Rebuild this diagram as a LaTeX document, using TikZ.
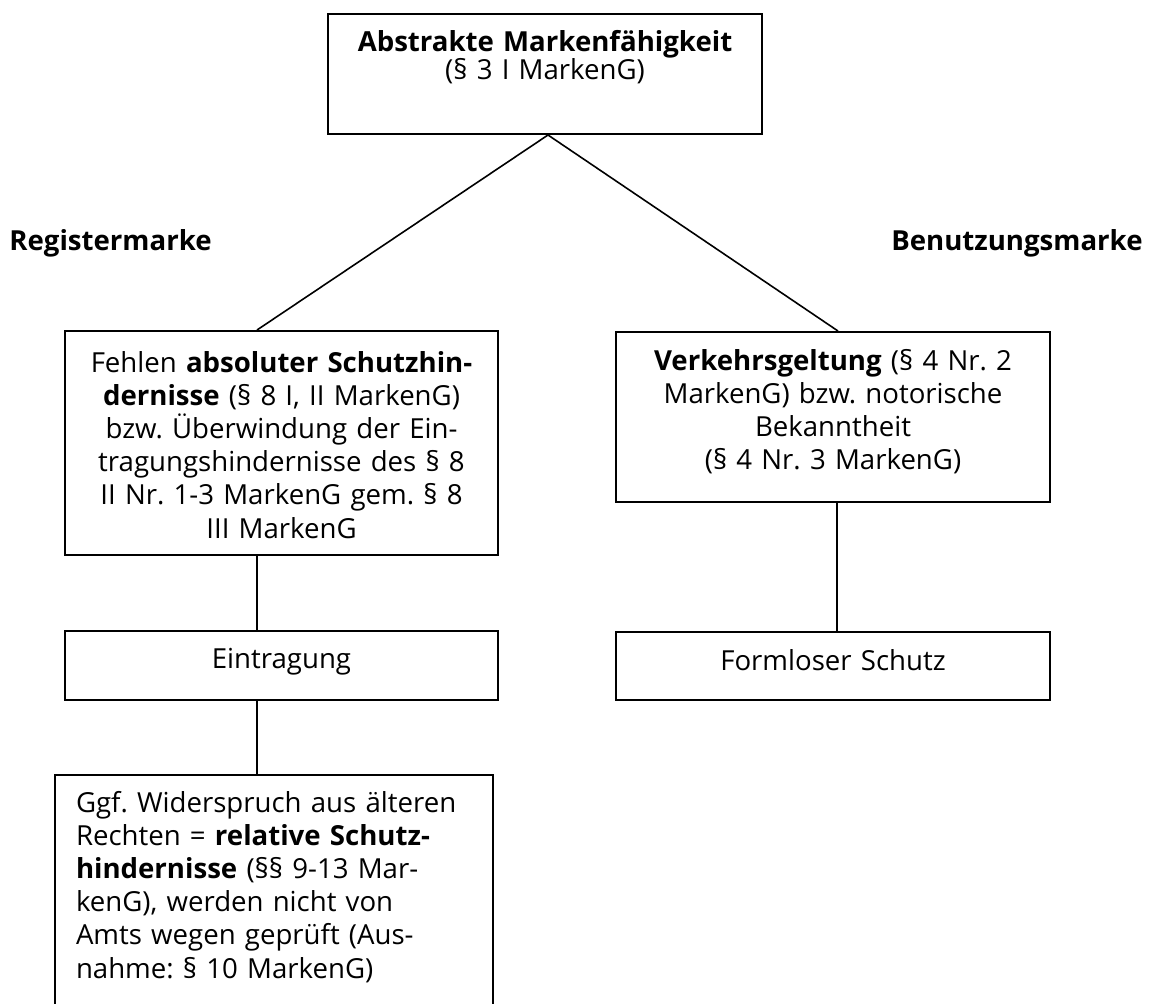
\documentclass[tikz,border=0pt]{standalone}
\usepackage{fontspec}
\setmainfont{Open Sans}
\usepackage{tikz}
\frenchspacing

\begin{document}
\begin{tikzpicture}
  [x=0.5pt,y=-0.5pt,
   every node/.style={inner sep=0pt,font=\fontsize{13.8pt}{16.6pt}\selectfont},
   box/.style={draw,line width=1pt,anchor=north,inner xsep=4pt,align=center},
   lbl/.style={font=\fontsize{13.8pt}{16.6pt}\selectfont\bfseries}]
  \useasboundingbox (0,0) rectangle (1152,1003);
  \clip (0,0) rectangle (1152,1003);

  \node[box,text width=209pt,text height=18.5pt,text depth=41.5pt] (top) at (545,13)
    {\textbf{Abstrakte Markenfähigkeit}\\[-2.5pt](§ 3 I MarkenG)};
  \node[lbl,anchor=base west] (regm) at (9,250) {Registermarke};
  \node[lbl,anchor=base east] (benm) at (1143,250) {Benutzungsmarke};

  \node[box,text width=208.5pt,text height=20.5pt,text depth=91.5pt] (abs) at (281.5,330)
    {Fehlen \textbf{absoluter Schutzhin-}\\
     \textbf{dernisse} (§ 8 I, II MarkenG)\\
     bzw. Überwindung der Ein-\\
     tragungshindernisse des § 8\\
     II Nr. 1-3 MarkenG gem. § 8\\
     III MarkenG};
  \node[box,text width=209pt,text height=19pt,text depth=66pt] (verk) at (833,331)
    {\textbf{Verkehrsgeltung} (§ 4 Nr. 2\\
     MarkenG) bzw. notorische\\
     Bekanntheit\\
     (§ 4 Nr. 3 MarkenG)};
  \node[box,text width=208.5pt,text height=18.5pt,text depth=16pt] (eintr) at (281.5,630) {Eintragung};
  \node[box,text width=209pt,text height=19pt,text depth=15pt] (formlos) at (833,631) {Formloser Schutz};
  \node[box,inner xsep=10.5pt,align=left,text width=198pt,text height=18.5pt,text depth=114.5pt] (wider) at (274,774)
    {Ggf. Widerspruch aus älteren\\
     Rechten = \textbf{relative Schutz-}\\
     \textbf{hindernisse} (§§ 9-13 Mar-\\
     kenG), werden nicht von\\
     Amts wegen geprüft (Aus-\\
     nahme: § 10 MarkenG)};

  % Anschlusspunkte
  \coordinate (t0) at ([xshift=1.5pt]top.south);
  \coordinate (a0) at ([xshift=-12.25pt]abs.north);
  \coordinate (a1) at ([xshift=-12.25pt]abs.south);
  \coordinate (e0) at ([xshift=-12.25pt]eintr.north);
  \coordinate (e1) at ([xshift=-12.25pt]eintr.south);
  \coordinate (w0) at (e1 |- wider.north);
  \coordinate (v0) at ([xshift=2.5pt]verk.north);
  \coordinate (v1) at ([xshift=2pt]verk.south);
  \coordinate (f0) at ([xshift=2pt]formlos.north);

  \foreach \from/\to in {t0/a0,t0/v0,a1/e0,e1/w0,v1/f0}
    \draw[line width=0.8pt] (\from) -- (\to);

\end{tikzpicture}
\end{document}
